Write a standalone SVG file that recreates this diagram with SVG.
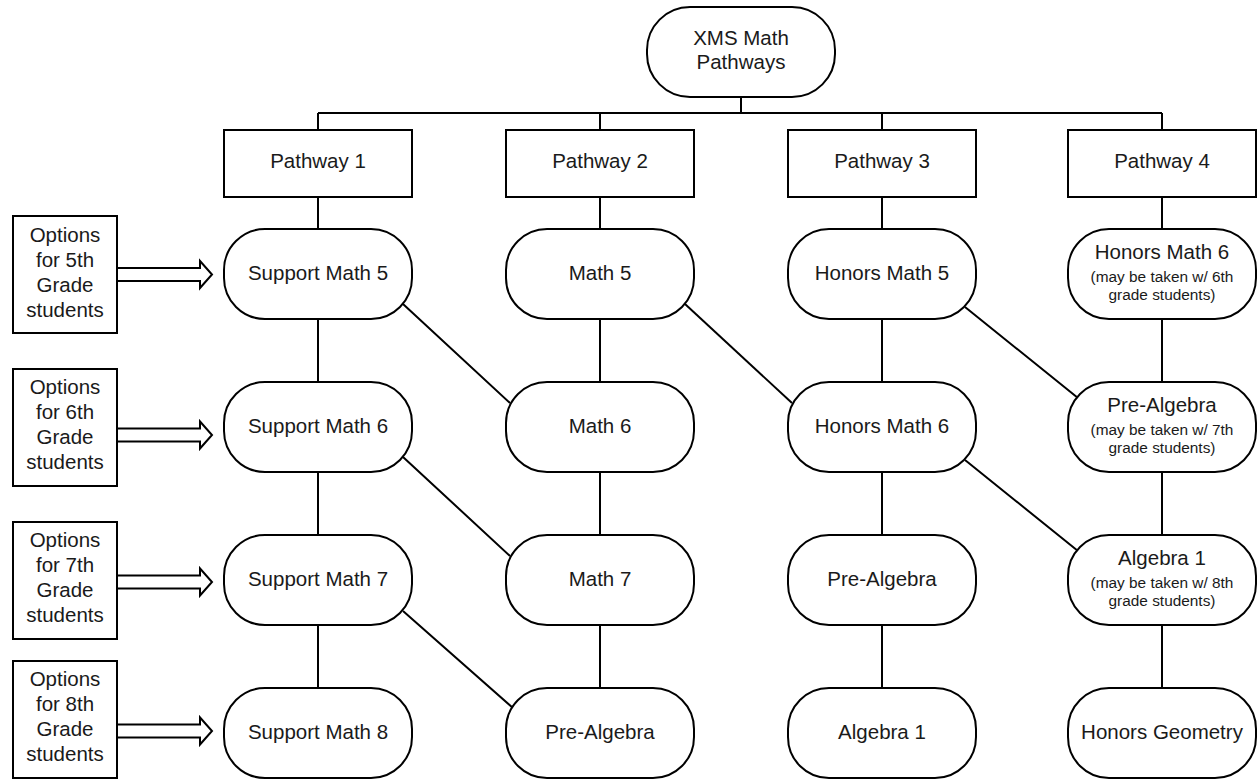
<svg xmlns="http://www.w3.org/2000/svg" width="1259" height="780" viewBox="0 0 1259 780">
<style>
.n{fill:#fff;stroke:#000;stroke-width:2}
.c{fill:none;stroke:#000;stroke-width:2}
.t{font-family:"Liberation Sans",Arial,sans-serif;font-size:20.5px;fill:#1a1a1a;text-anchor:middle}
.s{font-family:"Liberation Sans",Arial,sans-serif;font-size:15.4px;fill:#1a1a1a;text-anchor:middle}
</style>
<rect width="1259" height="780" fill="#fff"/>
<g id="connectors">
<path class="c" d="M741 97V113M318 113H1162M318 113V130M600 113V130M882 113V130M1162 113V130"/>
<path class="c" d="M318 197V229M600 197V229M882 197V229M1162 197V229"/>
<path class="c" d="M318 319V382M318 472V535M318 625V688"/>
<path class="c" d="M600 319V382M600 472V535M600 625V688"/>
<path class="c" d="M882 319V382M882 472V535M882 625V688"/>
<path class="c" d="M1162 319V382M1162 472V535M1162 625V688"/>
<path class="c" d="M403 304L510 403M403 457L510 556M403 611L513 708"/>
<path class="c" d="M685 304L792 403"/>
<path class="c" d="M965 307L1078 398M965 460L1078 551"/>
<polygon class="n" points="117,268 200,268 200,261 212,274.5 200,288 200,281 117,281"/>
<polygon class="n" points="117,428.5 200,428.5 200,421.5 212,435 200,448.5 200,441.5 117,441.5"/>
<polygon class="n" points="117,575.5 200,575.5 200,568.5 212,582 200,595.5 200,588.5 117,588.5"/>
<polygon class="n" points="117,724.5 200,724.5 200,717.5 212,731 200,744.5 200,737.5 117,737.5"/>
</g>
<g id="root"><rect class="n" x="647" y="7" width="188" height="90" rx="43" ry="43"/><text class="t" x="741" y="45">XMS Math</text><text class="t" x="741" y="69">Pathways</text></g>
<g id="pathway1"><rect class="n" x="224" y="130" width="188" height="67"/><text class="t" x="318" y="168">Pathway 1</text></g>
<g id="pathway2"><rect class="n" x="506" y="130" width="188" height="67"/><text class="t" x="600" y="168">Pathway 2</text></g>
<g id="pathway3"><rect class="n" x="788" y="130" width="188" height="67"/><text class="t" x="882" y="168">Pathway 3</text></g>
<g id="pathway4"><rect class="n" x="1068" y="130" width="188" height="67"/><text class="t" x="1162" y="168">Pathway 4</text></g>

<g id="opt5"><rect class="n" x="13" y="216" width="104" height="117"/><text class="t" x="65" y="242">Options</text><text class="t" x="65" y="267">for 5th</text><text class="t" x="65" y="292">Grade</text><text class="t" x="65" y="317">students</text></g>
<g id="opt6"><rect class="n" x="13" y="369" width="104" height="117"/><text class="t" x="65" y="394">Options</text><text class="t" x="65" y="419">for 6th</text><text class="t" x="65" y="444">Grade</text><text class="t" x="65" y="469">students</text></g>
<g id="opt7"><rect class="n" x="13" y="522" width="104" height="117"/><text class="t" x="65" y="547">Options</text><text class="t" x="65" y="572">for 7th</text><text class="t" x="65" y="597">Grade</text><text class="t" x="65" y="622">students</text></g>
<g id="opt8"><rect class="n" x="13" y="661" width="104" height="117"/><text class="t" x="65" y="686">Options</text><text class="t" x="65" y="711">for 8th</text><text class="t" x="65" y="736">Grade</text><text class="t" x="65" y="761">students</text></g>

<g id="sm5"><rect class="n" x="224" y="229" width="188" height="90" rx="41" ry="41"/><text class="t" x="318" y="280">Support Math 5</text></g>
<g id="sm6"><rect class="n" x="224" y="382" width="188" height="90" rx="41" ry="41"/><text class="t" x="318" y="433">Support Math 6</text></g>
<g id="sm7"><rect class="n" x="224" y="535" width="188" height="90" rx="41" ry="41"/><text class="t" x="318" y="586">Support Math 7</text></g>
<g id="sm8"><rect class="n" x="224" y="688" width="188" height="90" rx="41" ry="41"/><text class="t" x="318" y="739">Support Math 8</text></g>

<g id="m5"><rect class="n" x="506" y="229" width="188" height="90" rx="41" ry="41"/><text class="t" x="600" y="280">Math 5</text></g>
<g id="m6"><rect class="n" x="506" y="382" width="188" height="90" rx="41" ry="41"/><text class="t" x="600" y="433">Math 6</text></g>
<g id="m7"><rect class="n" x="506" y="535" width="188" height="90" rx="41" ry="41"/><text class="t" x="600" y="586">Math 7</text></g>
<g id="pa2"><rect class="n" x="506" y="688" width="188" height="90" rx="41" ry="41"/><text class="t" x="600" y="739">Pre-Algebra</text></g>

<g id="hm5"><rect class="n" x="788" y="229" width="188" height="90" rx="41" ry="41"/><text class="t" x="882" y="280">Honors Math 5</text></g>
<g id="hm6"><rect class="n" x="788" y="382" width="188" height="90" rx="41" ry="41"/><text class="t" x="882" y="433">Honors Math 6</text></g>
<g id="pa3"><rect class="n" x="788" y="535" width="188" height="90" rx="41" ry="41"/><text class="t" x="882" y="586">Pre-Algebra</text></g>
<g id="alg3"><rect class="n" x="788" y="688" width="188" height="90" rx="41" ry="41"/><text class="t" x="882" y="739">Algebra 1</text></g>

<g id="hm6b"><rect class="n" x="1068" y="229" width="188" height="90" rx="41" ry="41"/><text class="t" x="1162" y="259">Honors Math 6</text><text class="s" x="1162" y="282">(may be taken w/ 6th</text><text class="s" x="1162" y="300">grade students)</text></g>
<g id="pa4"><rect class="n" x="1068" y="382" width="188" height="90" rx="41" ry="41"/><text class="t" x="1162" y="412">Pre-Algebra</text><text class="s" x="1162" y="435">(may be taken w/ 7th</text><text class="s" x="1162" y="453">grade students)</text></g>
<g id="alg4"><rect class="n" x="1068" y="535" width="188" height="90" rx="41" ry="41"/><text class="t" x="1162" y="565">Algebra 1</text><text class="s" x="1162" y="588">(may be taken w/ 8th</text><text class="s" x="1162" y="606">grade students)</text></g>
<g id="hg"><rect class="n" x="1068" y="688" width="188" height="90" rx="41" ry="41"/><text class="t" x="1162" y="739">Honors Geometry</text></g>
</svg>
